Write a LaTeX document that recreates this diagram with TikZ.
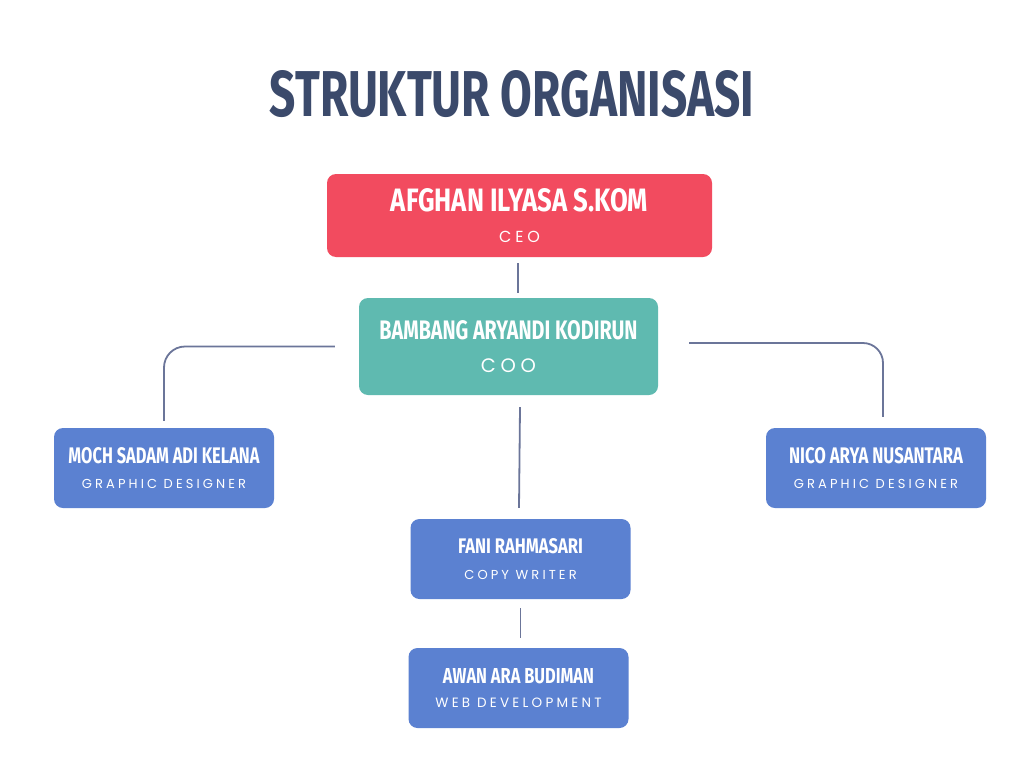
\documentclass[tikz,border=0pt]{standalone}
\usepackage{fontspec}
\usetikzlibrary{positioning}

\newfontfamily\condfont{Fira Sans}
\newfontfamily\widefont[LetterSpace=24]{Poppins}

\definecolor{titleblue}{HTML}{3B4A6B}
\definecolor{ceored}{HTML}{F24B5F}
\definecolor{cooteal}{HTML}{5FBAB0}
\definecolor{staffblue}{HTML}{5B81D1}
\definecolor{linegray}{HTML}{6B7599}

\newcommand\condtext[3]{\resizebox{#1}{#2}{\condfont\bfseries #3}}
\newcommand\staff[6]{\vbox{\offinterlineskip\halign{\hfil##\hfil\cr
	\condtext{#1}{#2}{#3}\cr
	\rule{0pt}{#6}\widefont\fontsize{#4}{#4}\selectfont #5\cr}}}

\begin{document}
\begin{tikzpicture}[x=1pt,y=-1pt]
\tikzstyle{orgbox}=
[
	rounded corners=9pt, text=white, align=center,
	inner sep=0pt, minimum width=220pt, minimum height=80pt
]
\tikzstyle{link}=[draw=linegray, line width=1.8pt]

\useasboundingbox[fill=white] (0,0) rectangle (1024,768);

\node[anchor=base, text=titleblue, inner sep=0pt] (title) at (512,116) {\condtext{484pt}{46pt}{STRUKTUR ORGANISASI}};

\node[orgbox, fill=ceored, minimum width=385pt, minimum height=83pt] (ceo) at (519.5,215.5)
	{\staff{257pt}{23pt}{AFGHAN ILYASA S.KOM}{16}{CEO}{30pt}};
\node[orgbox, fill=cooteal, minimum width=299pt, minimum height=97pt] (coo) at (508.5,346.5)
	{\staff{258pt}{19pt}{BAMBANG ARYANDI KODIRUN}{19.5}{COO}{33pt}};
\node[orgbox, fill=staffblue] (moch) at (164,468)
	{\staff{191pt}{16pt}{MOCH SADAM ADI KELANA}{13}{GRAPHIC DESIGNER}{24pt}};
\node[orgbox, fill=staffblue] (nico) at (876,468)
	{\staff{174pt}{16pt}{NICO ARYA NUSANTARA}{13}{GRAPHIC DESIGNER}{24pt}};
\node[orgbox, fill=staffblue] (fani) at (520.5,559)
	{\staff{125pt}{15pt}{FANI RAHMASARI}{13}{COPY WRITER}{26pt}};
\node[orgbox, fill=staffblue] (awan) at (518.5,688)
	{\staff{151pt}{15pt}{AWAN ARA BUDIMAN}{13.5}{WEB DEVELOPMENT}{24pt}};

\draw[link] ([xshift=-1.5pt,yshift=-6pt]ceo.south) -- ([xshift=-1.5pt,yshift=5pt]ceo.south |- coo.north);
\draw[link, rounded corners=21pt] ([xshift=-24pt]coo.west) -| ([yshift=7pt]moch.north);
\draw[link, rounded corners=20pt] ([xshift=31pt,yshift=3.5pt]coo.east) -| ([xshift=7pt,yshift=11pt]nico.north);
\draw[link] ([xshift=11.5pt,yshift=-12pt]coo.south) -- ([xshift=-1.5pt,yshift=11pt]fani.north);
\draw[link] ([yshift=-9pt]fani.south) -- ([yshift=10pt]fani.south |- awan.north);
\end{tikzpicture}
\end{document}
